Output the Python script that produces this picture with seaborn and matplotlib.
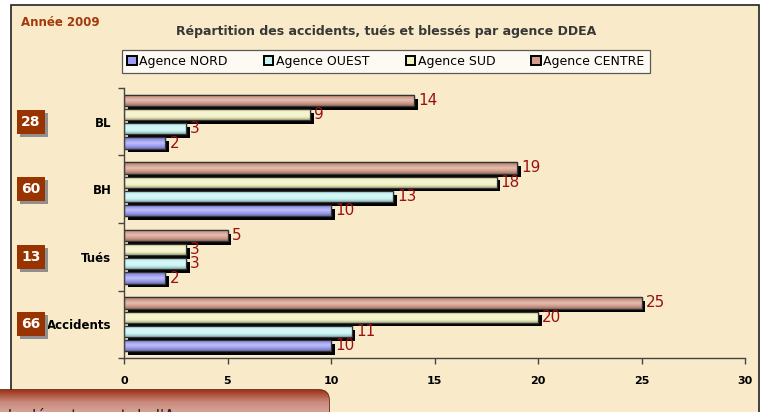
import numpy as np
import pandas as pd
import seaborn as sns
import matplotlib
matplotlib.use("Agg")
import matplotlib.pyplot as plt
import matplotlib.patheffects as pe
import matplotlib.colors as mcolors
from matplotlib.patches import Rectangle, FancyBboxPatch, Patch
import matplotlib.transforms as mtrans

# ---- data ----
categories = ["BL", "BH", "Tués", "Accidents"]
agences = ["Agence NORD", "Agence OUEST", "Agence SUD", "Agence CENTRE"]
nord = [2, 10, 2, 10]
ouest = [3, 13, 3, 11]
sud = [9, 18, 3, 20]
centre = [14, 19, 5, 25]
totals = [28, 60, 13, 66]
x_ticks = [0, 5, 10, 15, 20, 25, 30]

colors = {"Agence NORD": "#9C9CF2", "Agence OUEST": "#C6F3F3",
          "Agence SUD": "#F1F1C2", "Agence CENTRE": "#D29C8A"}

rows = []
for name, vals in zip(agences, [nord, ouest, sud, centre]):
    for c, v in zip(categories, vals):
        rows.append({"cat": c, "agence": name, "val": v})
df = pd.DataFrame(rows)

W, H = 763, 412
fig = plt.figure(figsize=(W / 100, H / 100), dpi=100, facecolor="white")

# background panel (pixel coords)
bg = fig.add_axes([0, 0, 1, 1], zorder=0)
bg.set_xlim(0, W); bg.set_ylim(H, 0); bg.axis("off")
bg.add_patch(Rectangle((11, 5), 748, 420, facecolor="#F9EBC9",
                       edgecolor="#222222", lw=1.2))
bg.text(21, 22, "Année 2009", fontsize=8.5, fontweight="bold",
        color="#A23A0C", va="center", ha="left")
bg.text(386, 31, "Répartition des accidents, tués et blessés par agence DDEA",
        fontsize=9, fontweight="bold", color="#383838", va="center", ha="center")

ax = fig.add_axes([124 / W, 1 - 358 / H, 621 / W, 270 / H], zorder=1)
ax.set_facecolor("none")
hue_order = ["Agence CENTRE", "Agence SUD", "Agence OUEST", "Agence NORD"]
sns.barplot(data=df, y="cat", x="val", hue="agence", order=categories,
            hue_order=hue_order, palette=colors, orient="h", width=0.84,
            gap=0.22, edgecolor="#2a2a2a", linewidth=0.9, ax=ax, legend=False)

ax.set_xlim(0, 30)
ax.set_ylim(3.5, -0.5)

# vertical shading inside bars (darker edges, lighter centre)
for cont, name in zip(ax.containers, hue_order):
    base = np.array(mcolors.to_rgb(colors[name]))
    dark = base * 0.72
    light = np.clip(base + (1 - base) * 0.35, 0, 1)
    cm = mcolors.LinearSegmentedColormap.from_list(
        "b", [dark, base, light, base, dark])
    for p in cont:
        p.set_path_effects([pe.SimplePatchShadow(offset=(2.7, -2.7),
                                                 shadow_rgbFace="black", alpha=1.0),
                            pe.Normal()])
        x0, y0 = p.get_x(), p.get_y()
        w, h = p.get_width(), p.get_height()
        im = ax.imshow(np.linspace(0, 1, 40).reshape(-1, 1), cmap=cm, aspect="auto",
                       extent=(x0, x0 + w, y0 + h, y0), origin="upper",
                       interpolation="bilinear", zorder=p.get_zorder() + 0.1)
        im.set_clip_path(p)
        ax.add_patch(Rectangle((x0, y0), w, h, facecolor="none",
                               edgecolor="#333333", lw=0.9,
                               zorder=p.get_zorder() + 0.2))
    ax.bar_label(cont, padding=3, fontsize=11, color="#9B1010")

ax.set_xlim(0, 30)
ax.set_ylim(3.5, -0.5)
ax.set_aspect("auto")
ax.set_xticks(x_ticks)
ax.set_xticklabels([str(t) for t in x_ticks], fontsize=8, fontweight="bold")
ax.tick_params(axis="x", direction="out", length=4, width=1, color="#444444", pad=9)
ax.set_yticks(range(len(categories)))
ax.set_yticklabels(categories, fontsize=8.5, fontweight="bold")
ax.tick_params(axis="y", length=0, pad=9)
ax.set_yticks(np.arange(-0.5, len(categories), 1), minor=True)
ax.tick_params(axis="y", which="minor", direction="out", length=4, width=1, color="#444444")
ax.set_xlabel(""); ax.set_ylabel("")
for s in ["top", "right"]:
    ax.spines[s].set_visible(False)
for s in ["left", "bottom"]:
    ax.spines[s].set_color("#444444")
    ax.spines[s].set_linewidth(1.0)

# total boxes
tr = mtrans.blended_transform_factory(ax.transAxes, ax.transData)
bx0, bw = (17 - 124) / 621, 28 / 621
for i, t in enumerate(totals):
    ax.add_patch(Rectangle((bx0 + 3 / 621, i - 0.18 + 3 / 67.5), bw, 0.36,
                           transform=tr, facecolor="#8f8f8f", edgecolor="none",
                           clip_on=False, zorder=3))
    ax.add_patch(Rectangle((bx0, i - 0.18), bw, 0.36, transform=tr,
                           facecolor="#993300", edgecolor="none",
                           clip_on=False, zorder=4))
    ax.text(bx0 + bw / 2, i, str(t), transform=tr, ha="center", va="center",
            color="white", fontsize=10, fontweight="bold", zorder=5)

# legend
handles = [Patch(facecolor=colors[a], edgecolor="black", lw=1.4, label=a) for a in agences]
leg = fig.legend(handles=handles, loc="center", ncol=4,
                 bbox_to_anchor=(386 / W, 1 - 61 / H), frameon=True, fancybox=False,
                 fontsize=9, handlelength=0.75, handleheight=0.75, handletextpad=0.2,
                 columnspacing=2.9, borderpad=0.4)
leg.get_frame().set_edgecolor("#333333")
leg.get_frame().set_linewidth(0.9)

# bottom overlay box
ov = fig.add_axes([0, 0, 1, 1], zorder=5)
ov.set_xlim(0, W); ov.set_ylim(H, 0); ov.axis("off")
box = FancyBboxPatch((-20, 390), 349, 60, boxstyle="round,pad=0,rounding_size=10",
                     facecolor="none", edgecolor="#5a2010", lw=1.2)
ov.add_patch(box)
grad = np.linspace(0, 1, 50).reshape(-1, 1)
cmap = mcolors.LinearSegmentedColormap.from_list("g", ["#9E3318", "#C98A7C", "#D9A89C"])
im = ov.imshow(grad, extent=(-20, 329, 414, 390), cmap=cmap, aspect="auto", zorder=1)
im.set_clip_path(box)
ov.text(-3, 416, "t le département de l'Aveyron :", fontsize=11, color="#222222",
        ha="left", va="center", zorder=2)
ov.set_xlim(0, W); ov.set_ylim(H, 0)

fig.savefig("out.png", dpi=100, facecolor="white")
